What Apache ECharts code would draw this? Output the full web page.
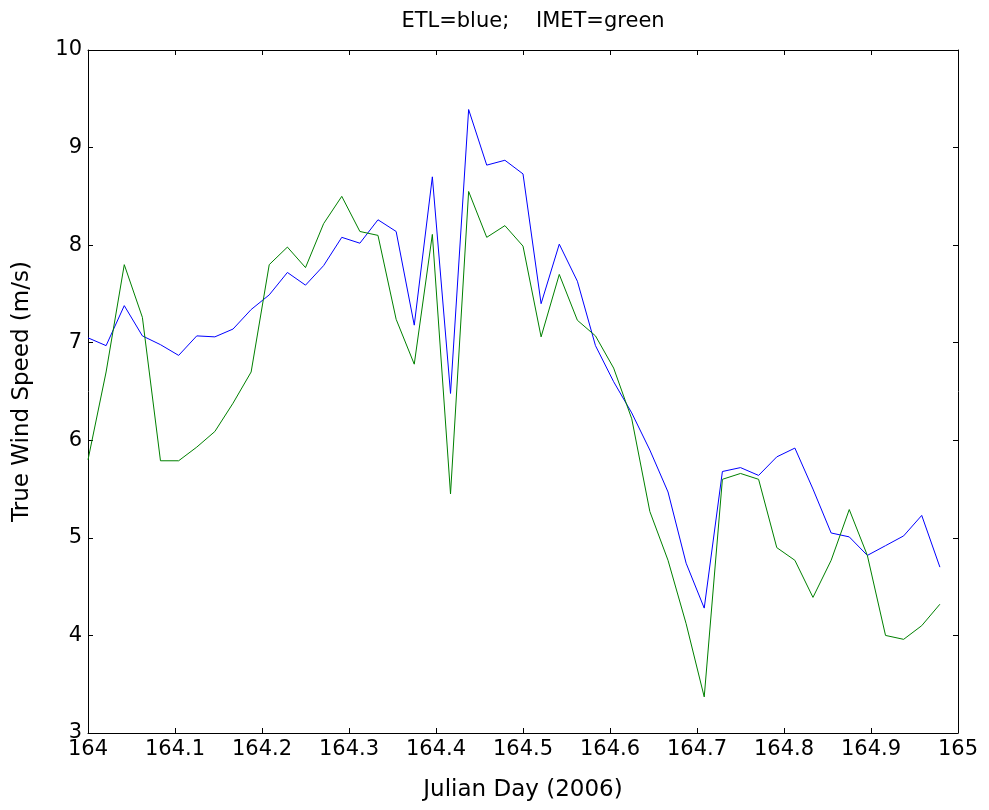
<!DOCTYPE html>
<html>
<head>
<meta charset="utf-8">
<script src="https://cdn.jsdelivr.net/npm/echarts@6/dist/echarts.min.js"></script>
<style>html,body{margin:0;padding:0;background:#fff;}#c{width:989px;height:810px;}</style>
</head>
<body>
<div id="c"></div>
<script>
const julianDay = [164.0000,164.0208,164.0417,164.0625,164.0833,164.1042,164.1250,164.1458,164.1667,164.1875,
  164.2083,164.2292,164.2500,164.2708,164.2917,164.3125,164.3333,164.3542,164.3750,164.3958,
  164.4167,164.4375,164.4583,164.4792,164.5000,164.5208,164.5417,164.5625,164.5833,164.6042,
  164.6250,164.6458,164.6667,164.6875,164.7083,164.7292,164.7500,164.7708,164.7917,164.8125,
  164.8333,164.8542,164.8750,164.8958,164.9167,164.9375,164.9583,164.9792];
const etl = [7.05,6.97,7.38,7.07,6.98,6.87,7.07,7.06,7.14,7.34,
  7.49,7.72,7.59,7.79,8.08,8.02,8.26,8.14,7.18,8.70,
  6.48,9.39,8.82,8.87,8.73,7.40,8.01,7.63,6.97,6.60,
  6.28,5.90,5.47,4.74,4.28,5.68,5.72,5.64,5.83,5.92,
  5.50,5.05,5.01,4.82,4.92,5.02,5.23,4.70];
const imet = [5.80,6.70,7.80,7.26,5.79,5.79,5.93,6.09,6.38,6.70,
  7.80,7.98,7.77,8.22,8.50,8.14,8.10,7.24,6.78,8.11,
  5.45,8.55,8.08,8.20,7.99,7.06,7.70,7.23,7.07,6.74,
  6.22,5.27,4.77,4.12,3.37,5.60,5.66,5.60,4.90,4.77,
  4.39,4.77,5.29,4.82,4.00,3.96,4.10,4.32];
const titleText = 'ETL=blue;    IMET=green';
const xName = 'Julian Day (2006)';
const yName = 'True Wind Speed (m/s)';

const font = 'DejaVu Sans, Liberation Sans, Arial, sans-serif';
const pairs = a => julianDay.map((d, i) => [d, a[i]]);
const chart = echarts.init(document.getElementById('c'), null, {renderer: 'canvas'});
const lineStyleAxis = {color: '#000', width: 1};
const tick = {show: true, inside: true, length: 5, lineStyle: {color: '#000', width: 1}};
chart.setOption({
  animation: false,
  backgroundColor: '#fff',
  title: {text: titleText, left: 528, top: 6, textAlign: 'center',
    textStyle: {fontFamily: font, fontSize: 21, fontWeight: 'normal', color: '#000'}},
  grid: {left: 88, right: 31, top: 50, bottom: 77},
  xAxis: [{
    type: 'value', min: 164, max: 165, interval: 0.1, position: 'bottom',
    name: xName, nameLocation: 'middle', nameGap: 46,
    nameTextStyle: {fontFamily: font, fontSize: 23, color: '#000'},
    axisLine: {show: true, onZero: false, lineStyle: lineStyleAxis},
    axisTick: tick, splitLine: {show: false},
    axisLabel: {fontFamily: font, fontSize: 21, color: '#000', margin: 6,
      formatter: v => String(Math.round(v * 10) / 10)}
  }, {
    type: 'value', min: 164, max: 165, interval: 0.1, position: 'top',
    axisLine: {show: true, onZero: false, lineStyle: lineStyleAxis},
    axisTick: tick, axisLabel: {show: false}, splitLine: {show: false}
  }],
  yAxis: [{
    type: 'value', min: 3, max: 10, interval: 1, position: 'left',
    name: yName, nameLocation: 'middle', nameGap: 54, nameRotate: 90,
    nameTextStyle: {fontFamily: font, fontSize: 23, color: '#000'},
    axisLine: {show: true, onZero: false, lineStyle: lineStyleAxis},
    axisTick: tick, splitLine: {show: false},
    axisLabel: {fontFamily: font, fontSize: 21, color: '#000', margin: 6}
  }, {
    type: 'value', min: 3, max: 10, interval: 1, position: 'right',
    axisLine: {show: true, onZero: false, lineStyle: lineStyleAxis},
    axisTick: tick, axisLabel: {show: false}, splitLine: {show: false}
  }],
  series: [
    {name: 'ETL', type: 'line', data: pairs(etl), showSymbol: false, symbol: 'none',
      lineStyle: {color: '#0000ff', width: 1}, itemStyle: {color: '#0000ff'}},
    {name: 'IMET', type: 'line', data: pairs(imet), showSymbol: false, symbol: 'none',
      lineStyle: {color: '#008000', width: 1}, itemStyle: {color: '#008000'}}
  ]
});
</script>
</body>
</html>
